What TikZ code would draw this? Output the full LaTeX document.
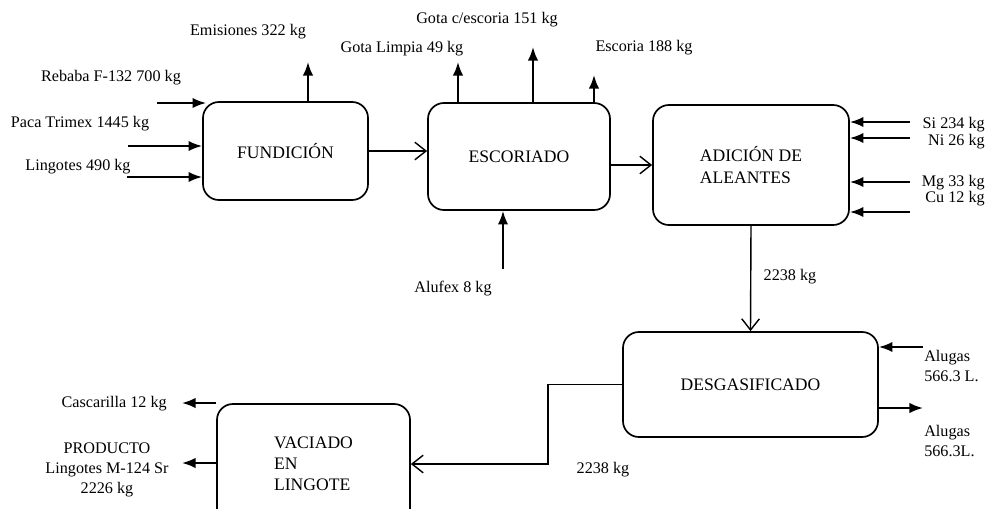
\documentclass[tikz,border=0pt]{standalone}
\usepackage{fontspec}
\setmainfont{Liberation Serif}
\usetikzlibrary{arrows.meta}
\begin{document}
\begin{tikzpicture}[x=0.025cm, y=-0.025cm,
  proc/.style={draw, line width=1.2pt, rounded corners=0.4cm, align=left, font=\fontsize{12.5}{15}\selectfont},
  lbl/.style={inner sep=0pt, font=\fontsize{11.5}{14}\selectfont},
  inarr/.style={-{Latex[length=3.4mm,width=2.6mm]}, line width=1.4pt},
  flow/.style={-{Straight Barb[length=2.8mm,width=4.4mm]}, line width=1pt}]
\clip (0,0) rectangle (987,508);
\node[proc, minimum width=4.125cm, minimum height=2.45cm] (fund) at (285.5,151) {FUNDICIÓN};
\node[proc, minimum width=4.55cm, minimum height=2.675cm] (esc) at (519,156.5) {ESCORIADO};
\node[proc, minimum width=4.9cm, minimum height=3cm] (adic) at (751,165) {ADICIÓN DE\\ALEANTES};
\node[proc, minimum width=6.375cm, minimum height=2.625cm] (desg) at (750.5,384.5) {DESGASIFICADO};
\node[proc, minimum width=4.825cm, minimum height=3cm] (vac) at (313.5,464) {VACIADO\\EN\\LINGOTE};
\node[lbl] (lreb) at (111,78) {Rebaba F-132 700 kg};
\node[lbl] (lpaca) at (80,124) {Paca Trimex 1445 kg};
\node[lbl] (lling) at (78,167) {Lingotes 490 kg};
\node[lbl] (lemi) at (248,32) {Emisiones 322 kg};
\node[lbl] (lgl) at (402,49) {Gota Limpia 49 kg};
\node[lbl] (lgc) at (487,20) {Gota c/escoria 151 kg};
\node[lbl] (lesc) at (644,48) {Escoria 188 kg};
\node[lbl] (lalu) at (453,289) {Alufex 8 kg};
\node[lbl, anchor=east] (lsi) at (985,125) {Si 234 kg};
\node[lbl, anchor=east] (lni) at (985,142) {Ni 26 kg};
\node[lbl, anchor=east] (lmg) at (985,183) {Mg 33 kg};
\node[lbl, anchor=east] (lcu) at (985,199) {Cu 12 kg};
\node[lbl] (lm1) at (790,277) {2238 kg};
\node[lbl, anchor=west, align=left] (lagi) at (924,366) {Alugas\\566.3 L.};
\node[lbl, anchor=west, align=left] (lago) at (924,441) {Alugas\\566.3L.};
\node[lbl] (lm2) at (603,470) {2238 kg};
\node[lbl, anchor=east] (lcas) at (167,404) {Cascarilla 12 kg};
\node[lbl, align=center] (lprod) at (107,470) {PRODUCTO\\Lingotes M-124 Sr\\2226 kg};
\coordinate (rebS) at (157,103);
\coordinate (pacaS) at (128,146);
\coordinate (lingS) at (127,177);
\coordinate (emiE) at (308,62);
\coordinate (glE) at (458,62);
\coordinate (gcE) at (533,47);
\coordinate (escE) at (594,75);
\coordinate (aluS) at (503,269);
\coordinate (siS) at (910,122);
\coordinate (niS) at (910,138);
\coordinate (mgS) at (910,182);
\coordinate (cuS) at (910,212);
\coordinate (agiS) at (923,347);
\coordinate (agoE) at (923,408);
\coordinate (casE) at (182,403);
\coordinate (proE) at (182,463);
\draw[inarr] (rebS) -- ([xshift=1mm]rebS -| fund.west);
\draw[inarr] (pacaS) -- (pacaS -| fund.west);
\draw[inarr] (lingS) -- (lingS -| fund.west);
\draw[inarr] (emiE |- fund.north) -- (emiE);
\draw[inarr] (glE |- esc.north) -- (glE);
\draw[inarr] (gcE |- esc.north) -- (gcE);
\draw[inarr] (escE |- esc.north) -- (escE);
\draw[inarr] (aluS) -- (aluS |- esc.south);
\draw[inarr] (siS) -- (siS -| adic.east);
\draw[inarr] (niS) -- (niS -| adic.east);
\draw[inarr] (mgS) -- (mgS -| adic.east);
\draw[inarr] (cuS) -- (cuS -| adic.east);
\draw[inarr] (agiS) -- (agiS -| desg.east);
\draw[inarr] (agoE -| desg.east) -- (agoE);
\draw[inarr] (casE -| vac.west) -- (casE);
\draw[inarr] (proE -| vac.west) -- (proE);
\draw[flow] (fund.east) -- (fund.east -| esc.west);
\draw[flow] (adic.west -| esc.east) -- (adic.west);
\draw[flow] (adic.south) -- (desg.north);
\draw[flow] (desg.west) -- ++(-74,0) |- (vac.east);
\end{tikzpicture}
\end{document}
